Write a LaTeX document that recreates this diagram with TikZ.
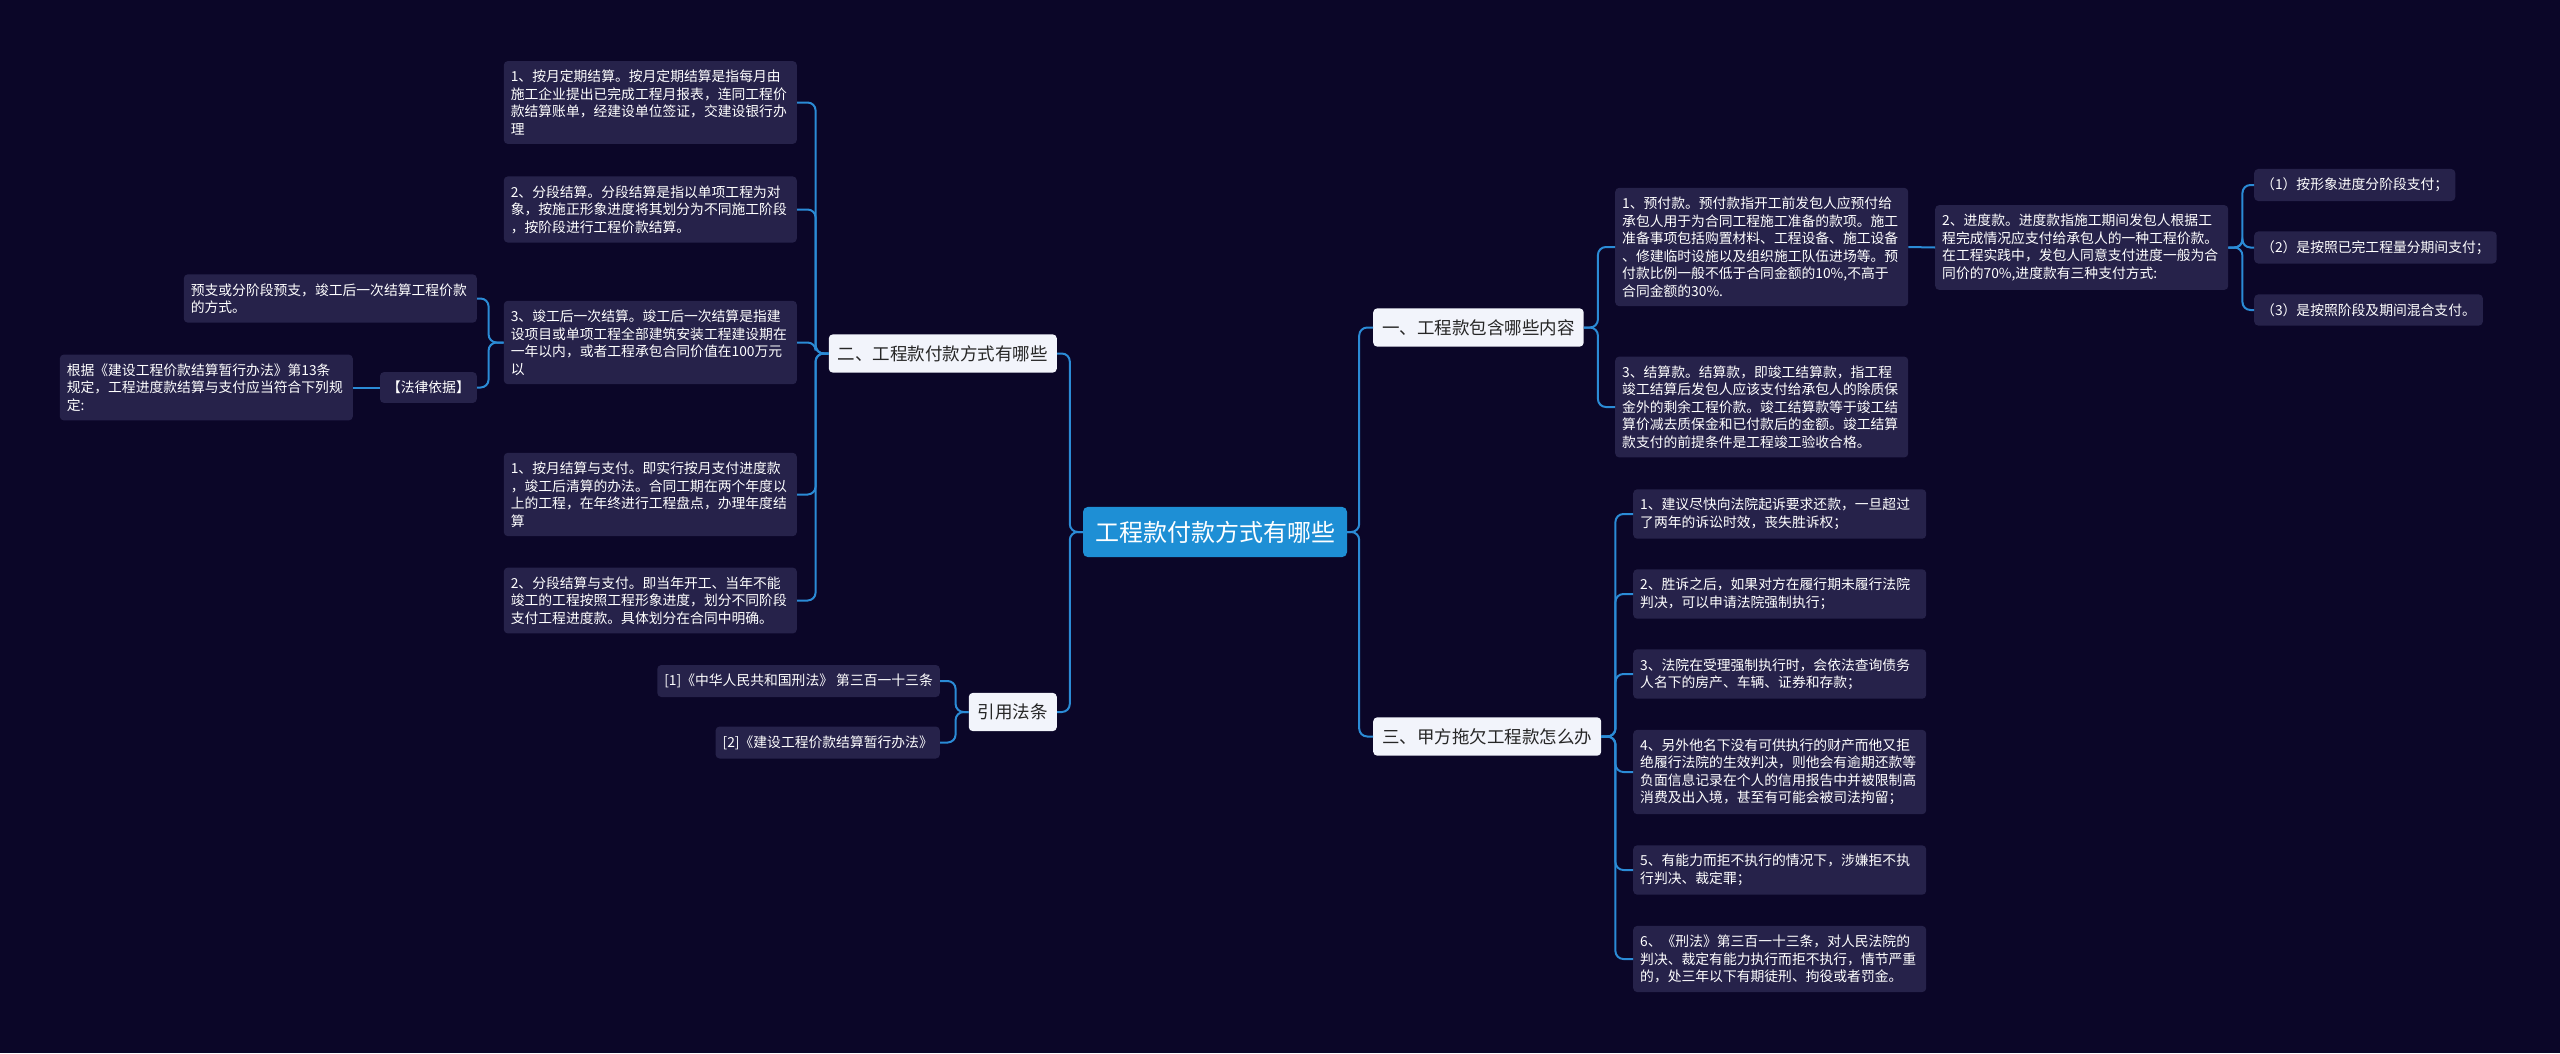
\documentclass[tikz,border=0pt]{standalone}
\usepackage{fontspec}
\setmainfont{Noto Sans CJK SC}
\usepackage{xcolor}
\definecolor{bgc}{HTML}{0B0628}
\definecolor{leafc}{HTML}{26224A}
\definecolor{rootc}{HTML}{1E8FD5}
\definecolor{linec}{HTML}{2B8BD6}
\definecolor{topc}{HTML}{F2F4FB}
\newcommand{\leaffont}{\fontsize{13.8bp}{17.5bp}\selectfont}
\newcommand{\topfont}{\fontsize{17.5bp}{21bp}\selectfont}
\newcommand{\rootfont}{\fontsize{24bp}{28bp}\selectfont}
\tikzset{
  leaf/.style={fill=leafc, rounded corners=4bp, text=white, font=\leaffont, inner xsep=7bp, inner ysep=9bp, align=left},
  para/.style={leaf, text width=279bp},
  topic/.style={fill=topc, rounded corners=4bp, text=black!85, font=\topfont, inner xsep=9bp, inner ysep=11bp},
  rootbox/.style={fill=rootc, rounded corners=5bp, text=white, font=\rootfont, inner xsep=12bp, inner ysep=14bp},
  conn/.style={draw=linec, line width=2bp, rounded corners=8bp}
}

\begin{document}
\begin{tikzpicture}[x=1bp,y=-1bp]

\fill[bgc] (0,0) rectangle (2560,1053);
\useasboundingbox (0,0) rectangle (2560,1053);

% centre
\node[rootbox] (root) at (1215,532) {工程款付款方式有哪些};

% main topics
\node[topic, anchor=west] (t1) at (1373,327.5) {一、工程款包含哪些内容};
\node[topic, anchor=east] (t2) at (1057,353.5) {二、工程款付款方式有哪些};
\node[topic, anchor=west] (t3) at (1373,736.5) {三、甲方拖欠工程款怎么办};
\node[topic, anchor=east] (law) at (1057,712) {引用法条};

% left: payment ways
\node[para, anchor=east] (b1) at (797,102.5) {1、按月定期结算。按月定期结算是指每月由\\施工企业提出已完成工程月报表，连同工程价\\款结算账单，经建设单位签证，交建设银行办\\理};
\node[para, anchor=east] (b2) at (797,209.5) {2、分段结算。分段结算是指以单项工程为对\\象，按施正形象进度将其划分为不同施工阶段\\，按阶段进行工程价款结算。};
\node[para, anchor=east] (b3) at (797,342.5) {3、竣工后一次结算。竣工后一次结算是指建\\设项目或单项工程全部建筑安装工程建设期在\\一年以内，或者工程承包合同价值在100万元\\以};
\node[para, anchor=east] (b4) at (797,494.5) {1、按月结算与支付。即实行按月支付进度款\\，竣工后清算的办法。合同工期在两个年度以\\上的工程，在年终进行工程盘点，办理年度结\\算};
\node[para, anchor=east] (b5) at (797,600.5) {2、分段结算与支付。即当年开工、当年不能\\竣工的工程按照工程形象进度，划分不同阶段\\支付工程进度款。具体划分在合同中明确。};

\node[para, anchor=east] (yz) at (477,298.5) {预支或分阶段预支，竣工后一次结算工程价款\\的方式。};
\node[leaf, anchor=east] (yj) at (477,387.5) {【法律依据】};
\node[para, anchor=east] (gj) at (353,387.5) {根据《建设工程价款结算暂行办法》第13条\\规定，工程进度款结算与支付应当符合下列规\\定:};

% left: cited laws
\node[leaf, anchor=east] (f1) at (940,681) {[1]《中华人民共和国刑法》 第三百一十三条};
\node[leaf, anchor=east] (f2) at (940,742.5) {[2]《建设工程价款结算暂行办法》};

% right: contents
\node[para, anchor=west] (a1) at (1615,247) {1、预付款。预付款指开工前发包人应预付给\\承包人用于为合同工程施工准备的款项。施工\\准备事项包括购置材料、工程设备、施工设备\\、修建临时设施以及组织施工队伍进场等。预\\付款比例一般不低于合同金额的10\%,不高于\\合同金额的30\%.};
\node[para, anchor=west] (a3) at (1615,407) {3、结算款。结算款，即竣工结算款，指工程\\竣工结算后发包人应该支付给承包人的除质保\\金外的剩余工程价款。竣工结算款等于竣工结\\算价减去质保金和已付款后的金额。竣工结算\\款支付的前提条件是工程竣工验收合格。};
\node[para, anchor=west] (a2) at (1935,247.5) {2、进度款。进度款指施工期间发包人根据工\\程完成情况应支付给承包人的一种工程价款。\\在工程实践中，发包人同意支付进度一般为合\\同价的70\%,进度款有三种支付方式:};
\node[leaf, anchor=west] (p1) at (2254,185) {（1）按形象进度分阶段支付；};
\node[leaf, anchor=west] (p2) at (2254,247.5) {（2）是按照已完工程量分期间支付；};
\node[leaf, anchor=west] (p3) at (2254,310) {（3）是按照阶段及期间混合支付。};

% right: unpaid
\node[para, anchor=west] (c1) at (1633,514) {1、建议尽快向法院起诉要求还款，一旦超过\\了两年的诉讼时效，丧失胜诉权；};
\node[para, anchor=west] (c2) at (1633,594) {2、胜诉之后，如果对方在履行期未履行法院\\判决，可以申请法院强制执行；};
\node[para, anchor=west] (c3) at (1633,674) {3、法院在受理强制执行时，会依法查询债务\\人名下的房产、车辆、证券和存款；};
\node[para, anchor=west] (c4) at (1633,772) {4、另外他名下没有可供执行的财产而他又拒\\绝履行法院的生效判决，则他会有逾期还款等\\负面信息记录在个人的信用报告中并被限制高\\消费及出入境，甚至有可能会被司法拘留；};
\node[para, anchor=west] (c5) at (1633,870) {5、有能力而拒不执行的情况下，涉嫌拒不执\\行判决、裁定罪；};
\node[para, anchor=west] (c6) at (1633,959) {6、《刑法》第三百一十三条，对人民法院的\\判决、裁定有能力执行而拒不执行，情节严重\\的，处三年以下有期徒刑、拘役或者罚金。};

% connectors
\draw[conn] (root.east) -- ++(12,0) |- (t1.west);
\draw[conn] (root.east) -- ++(12,0) |- (t3.west);
\draw[conn] (root.west) -- ++(-13,0) |- (t2.east);
\draw[conn] (root.west) -- ++(-13,0) |- (law.east);

\draw[conn] (t2.west) -- ++(-13,0) |- (b1.east);
\draw[conn] (t2.west) -- ++(-13,0) |- (b2.east);
\draw[conn] (t2.west) -- ++(-13,0) |- (b3.east);
\draw[conn] (t2.west) -- ++(-13,0) |- (b4.east);
\draw[conn] (t2.west) -- ++(-13,0) |- (b5.east);

\draw[conn] (b3.west) -- ++(-15,0) |- (yz.east);
\draw[conn] (b3.west) -- ++(-15,0) |- (yj.east);
\draw[conn] (yj.west) -- (gj.east);

\draw[conn] (law.west) -- ++(-13,0) |- (f1.east);
\draw[conn] (law.west) -- ++(-13,0) |- (f2.east);

\draw[conn] (t1.east) -- ++(14,0) |- (a1.west);
\draw[conn] (t1.east) -- ++(14,0) |- (a3.west);
\draw[conn] (a1.east) -- (a2.west);
\draw[conn] (a2.east) -- ++(14,0) |- (p1.west);
\draw[conn] (a2.east) -- ++(14,0) |- (p2.west);
\draw[conn] (a2.east) -- ++(14,0) |- (p3.west);

\draw[conn] (t3.east) -- ++(14,0) |- (c1.west);
\draw[conn] (t3.east) -- ++(14,0) |- (c2.west);
\draw[conn] (t3.east) -- ++(14,0) |- (c3.west);
\draw[conn] (t3.east) -- ++(14,0) |- (c4.west);
\draw[conn] (t3.east) -- ++(14,0) |- (c5.west);
\draw[conn] (t3.east) -- ++(14,0) |- (c6.west);

\end{tikzpicture}
\end{document}
